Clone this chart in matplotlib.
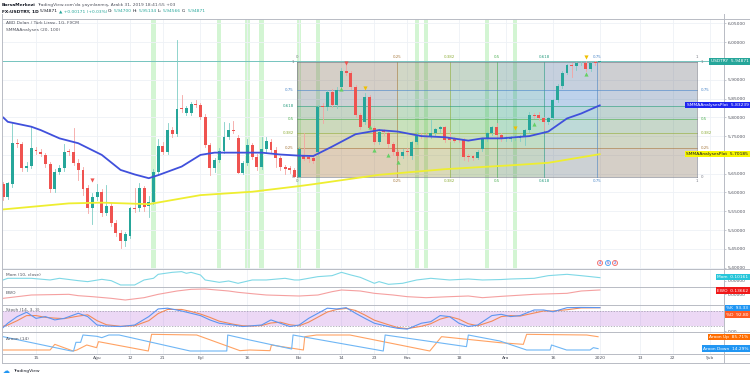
import numpy as np
import matplotlib
matplotlib.use('Agg')
import matplotlib.pyplot as plt
from matplotlib.lines import Line2D
from matplotlib.patches import Rectangle

# ---------------- data ----------------
# daily bars, index 0 = 15 Jul 2019 (weekdays only)
bars = np.arange(-7, 121)
opens = [5.622, 5.589, 5.622, 5.731, 5.728, 5.664, 5.671, 5.712, 5.709, 5.701,
         5.675, 5.608, 5.655, 5.664, 5.710, 5.709, 5.678, 5.660, 5.611, 5.558,
         5.587, 5.602, 5.545, 5.564, 5.520, 5.493, 5.471, 5.484, 5.560, 5.558,
         5.611, 5.564, 5.576, 5.655, 5.724, 5.709, 5.766, 5.756, 5.824, 5.811,
         5.811, 5.835, 5.833, 5.802, 5.726, 5.664, 5.686, 5.711, 5.748, 5.766,
         5.744, 5.653, 5.678, 5.726, 5.695, 5.667, 5.715, 5.735, 5.713, 5.691,
         5.667, 5.664, 5.660, 5.642, 5.697, 5.695, 5.691, 5.709, 5.830, 5.828,
         5.868, 5.832, 5.880, 5.924, 5.917, 5.881, 5.806, 5.788, 5.855, 5.771,
         5.733, 5.764, 5.757, 5.729, 5.708, 5.697, 5.711, 5.697, 5.733, 5.751,
         5.751, 5.750, 5.759, 5.768, 5.773, 5.744, 5.741, 5.740, 5.740, 5.697,
         5.697, 5.693, 5.715, 5.741, 5.757, 5.773, 5.753, 5.741, 5.742, 5.744,
         5.744, 5.747, 5.766, 5.806, 5.806, 5.797, 5.788, 5.797, 5.846, 5.883,
         5.919, 5.939, 5.936, 5.944, 5.945, 5.928, 5.946, 5.947]
highs = [5.628, 5.628, 5.784, 5.742, 5.735, 5.680, 5.775, 5.720, 5.715, 5.706,
         5.680, 5.662, 5.672, 5.728, 5.716, 5.771, 5.690, 5.668, 5.620, 5.598,
         5.622, 5.610, 5.620, 5.572, 5.528, 5.500, 5.495, 5.562, 5.611, 5.625,
         5.618, 5.590, 5.662, 5.742, 5.735, 5.784, 5.775, 6.005, 5.860, 5.830,
         5.840, 5.846, 5.838, 5.808, 5.732, 5.692, 5.718, 5.788, 5.785, 5.791,
         5.752, 5.684, 5.742, 5.732, 5.702, 5.748, 5.748, 5.742, 5.720, 5.698,
         5.672, 5.670, 5.666, 5.722, 5.757, 5.700, 5.698, 5.832, 5.838, 5.872,
         5.874, 5.880, 5.930, 5.939, 5.922, 5.886, 5.812, 5.864, 5.860, 5.776,
         5.768, 5.770, 5.762, 5.734, 5.714, 5.716, 5.718, 5.738, 5.760, 5.758,
         5.757, 5.794, 5.772, 5.778, 5.778, 5.760, 5.747, 5.745, 5.745, 5.702,
         5.700, 5.712, 5.746, 5.762, 5.778, 5.784, 5.758, 5.750, 5.750, 5.752,
         5.752, 5.770, 5.815, 5.812, 5.815, 5.802, 5.800, 5.850, 5.888, 5.923,
         5.943, 5.944, 5.947, 5.950, 5.949, 5.948, 5.950, 5.951]
lows = [5.580, 5.582, 5.615, 5.722, 5.658, 5.657, 5.665, 5.702, 5.696, 5.668,
        5.600, 5.602, 5.648, 5.658, 5.700, 5.672, 5.633, 5.593, 5.545, 5.516,
        5.580, 5.538, 5.540, 5.512, 5.485, 5.452, 5.458, 5.478, 5.548, 5.550,
        5.552, 5.534, 5.570, 5.648, 5.702, 5.703, 5.748, 5.750, 5.815, 5.805,
        5.805, 5.828, 5.795, 5.720, 5.647, 5.655, 5.680, 5.705, 5.742, 5.758,
        5.651, 5.648, 5.672, 5.688, 5.660, 5.662, 5.708, 5.706, 5.668, 5.660,
        5.650, 5.652, 5.640, 5.640, 5.686, 5.682, 5.678, 5.700, 5.784, 5.820,
        5.828, 5.826, 5.876, 5.912, 5.876, 5.800, 5.768, 5.782, 5.766, 5.728,
        5.728, 5.752, 5.722, 5.700, 5.690, 5.692, 5.700, 5.690, 5.728, 5.744,
        5.744, 5.745, 5.754, 5.762, 5.733, 5.736, 5.733, 5.734, 5.686, 5.684,
        5.686, 5.688, 5.710, 5.736, 5.752, 5.748, 5.736, 5.736, 5.737, 5.740,
        5.738, 5.726, 5.760, 5.798, 5.792, 5.766, 5.782, 5.792, 5.840, 5.878,
        5.914, 5.908, 5.925, 5.938, 5.924, 5.924, 5.940, 5.946]
closes = [5.589, 5.624, 5.731, 5.728, 5.664, 5.671, 5.718, 5.710, 5.702, 5.675,
          5.608, 5.655, 5.664, 5.709, 5.708, 5.678, 5.660, 5.608, 5.558, 5.587,
          5.602, 5.545, 5.564, 5.520, 5.491, 5.471, 5.490, 5.558, 5.555, 5.611,
          5.562, 5.576, 5.655, 5.724, 5.709, 5.766, 5.756, 5.822, 5.822, 5.824,
          5.835, 5.833, 5.802, 5.726, 5.664, 5.686, 5.711, 5.748, 5.766, 5.764,
          5.653, 5.678, 5.726, 5.695, 5.667, 5.715, 5.738, 5.713, 5.691, 5.667,
          5.662, 5.660, 5.642, 5.717, 5.690, 5.688, 5.685, 5.828, 5.828, 5.868,
          5.832, 5.873, 5.924, 5.917, 5.881, 5.806, 5.775, 5.855, 5.771, 5.733,
          5.762, 5.762, 5.729, 5.708, 5.697, 5.709, 5.709, 5.733, 5.750, 5.749,
          5.749, 5.759, 5.768, 5.773, 5.740, 5.740, 5.738, 5.739, 5.695, 5.695,
          5.693, 5.709, 5.741, 5.757, 5.773, 5.753, 5.741, 5.744, 5.744, 5.747,
          5.747, 5.766, 5.806, 5.804, 5.797, 5.788, 5.797, 5.846, 5.883, 5.919,
          5.939, 5.937, 5.944, 5.945, 5.928, 5.944, 5.945, 5.949]

smma20_x = [-7, -6, -1, 1, 5, 9, 14, 18, 21, 24, 26, 31, 35, 38, 42, 48, 52, 56,
            59, 63, 68, 73, 77, 82, 87, 92, 95, 99, 105, 109, 113, 116, 120]
smma20_y = [5.800, 5.788, 5.775, 5.766, 5.744, 5.731, 5.700, 5.660, 5.648, 5.638,
            5.646, 5.669, 5.700, 5.706, 5.706, 5.706, 5.701, 5.698, 5.697, 5.722,
            5.755, 5.766, 5.762, 5.750, 5.747, 5.738, 5.744, 5.744, 5.750, 5.762,
            5.797, 5.810, 5.832]
smma100_x = [-7, 7, 14, 24, 35, 46, 56, 59, 73, 87, 102, 109, 120]
smma100_y = [5.555, 5.571, 5.573, 5.569, 5.593, 5.602, 5.617, 5.622, 5.647, 5.662,
             5.673, 5.679, 5.702]

signal_bars = [25, 39, 45, 48, 56, 60, 81, 83, 96, 102]
red_marks = [(12, 5.633), (66, 5.944)]
yellow_marks = [(70, 5.878), (102, 5.772), (117, 5.960)]
green_marks = [(65, 5.874), (71, 5.774), (72, 5.713), (75, 5.700), (77, 5.682),
               (106, 5.782), (117, 5.915)]

# gann / fib box drawn on the chart
fib_t0, fib_t1 = 55.5, 140.6
fib_low, fib_high = 5.642, 5.948
fib_levels = [0, 0.25, 0.382, 0.5, 0.618, 0.75, 1]
fib_labels = ['0', '0.25', '0.382', '0.5', '0.618', '0.75', '1']
fib_colors = ['#787b86', '#a87a40', '#8fae3a', '#4caf50', '#2a9d80', '#4a86c8', '#787b86']

mom_x = [-7, -6, -1, 3, 5, 9, 11, 14, 16, 18, 21, 23, 25, 26, 29, 31, 32, 33, 35,
         36, 39, 41, 43, 46, 49, 53, 55, 56, 58, 60, 63, 65, 67, 69, 72, 73, 75,
         78, 81, 84, 88, 92, 95, 99, 101, 106, 109, 111, 113, 116, 118, 120]
mom_v = [0.031, 0.082, 0.082, 0.031, 0.082, 0.010, -0.020, 0.051, 0.010, -0.122,
         -0.122, 0.031, 0.082, 0.204, 0.265, 0.286, 0.235, 0.265, 0.184, 0.031,
         -0.041, 0.000, -0.071, 0.031, 0.031, 0.082, 0.031, 0.031, 0.082, 0.133,
         0.163, 0.265, 0.184, 0.112, -0.071, -0.020, -0.102, -0.071, 0.031, 0.082,
         0.031, 0.061, 0.031, 0.045, 0.061, 0.082, 0.163, 0.184, 0.204, 0.163,
         0.133, 0.102]

ewo_x = [-7, -4, -1, 7, 9, 12, 16, 19, 23, 26, 30, 33, 36, 41, 43, 46, 49, 56, 60,
         63, 65, 69, 72, 76, 79, 83, 88, 92, 95, 99, 106, 113, 116, 120]
ewo_v = [-0.147, -0.091, -0.034, -0.011, -0.057, -0.091, -0.147, -0.204, -0.125,
         -0.011, 0.102, 0.159, 0.170, 0.102, 0.057, 0.010, -0.034, -0.068, -0.034,
         0.079, 0.136, 0.102, 0.023, -0.034, -0.091, -0.125, -0.091, -0.068,
         -0.125, -0.080, -0.011, 0.023, 0.102, 0.137]

stoch_x = [-7, -6, -4, -2, 0, 2, 4, 6, 9, 11, 13, 15, 18, 21, 24, 26, 28, 31, 33, 35,
           37, 39, 42, 44, 46, 48, 50, 52, 54, 56, 58, 60, 62, 64, 66, 68, 70, 72,
           75, 77, 79, 82, 84, 86, 88, 90, 92, 94, 97, 99, 101, 103, 106, 108, 110,
           113, 116, 120]
stoch_k = [15, 32, 58, 75, 51, 58, 45, 51, 71, 58, 25, 21, 19, 25, 58, 88, 91, 80,
           71, 62, 45, 32, 25, 19, 22, 25, 45, 32, 19, 25, 51, 71, 91, 88, 93, 71,
           51, 32, 19, 12, 9, 32, 38, 62, 58, 32, 19, 25, 62, 67, 58, 62, 84, 84,
           77, 93, 94, 93.33]
stoch_d = [20, 25, 42, 62, 62, 55, 52, 50, 60, 65, 42, 26, 20, 22, 42, 70, 86, 86,
           78, 68, 55, 40, 28, 22, 21, 23, 33, 36, 26, 22, 36, 56, 76, 86, 90, 82,
           64, 44, 26, 15, 11, 20, 30, 48, 58, 48, 30, 22, 40, 58, 62, 60, 72, 80,
           80, 85, 92, 92.8]

aroon_dn_x = [-7, 7.5, 8, 8.5, 9.5, 10, 13, 14, 15.5, 17.7, 32.8, 40.6, 40.8, 45.5,
              54.4, 54.7, 73.9, 74.3, 91.6, 92, 98.7, 104.4, 109.4, 109.7, 112.9,
              117.9, 118.6, 119.6]
aroon_dn_v = [86, 0, 0, 52, 52, 96, 88, 80, 96, 96, 0, 0, 96, 66, 12, 96, 0, 96,
              26, 96, 60, 6, 6, 36, 6, 6, 20, 14.29]
aroon_up_x = [-7, 3, 4, 7.9, 8.7, 10.8, 12.9, 13.3, 23.9, 24.6, 34.2, 43.4, 45.5,
              49.8, 50.1, 56.9, 57.2, 59.7, 66.8, 83.8, 86.3, 98.7, 103.7, 104.4,
              117.2, 119.6]
aroon_up_v = [6, 6, 40, 0, 6, 36, 20, 56, 0, 100, 96, 2, 6, 2, 36, 6, 86, 96, 96,
              0, 86, 50, 40, 100, 96, 85.71]

date_pos = [0, 13, 20, 27, 35, 45, 56, 65, 72, 79, 90, 100, 110, 120, 128.5, 135.5, 143.4]
date_lbl = ['15', 'Ağu', '12', '21', 'Eyl', '16', 'Eki', '14', '23', 'Kas', '18',
            'Ara', '16', '2020', '13', '22', 'Şub']

# ---------------- figure ----------------
W, H = 750, 377
fs = 3.2
txt = '#50535e'
grid_c = '#eef1f6'
plt.rcParams['font.family'] = ['DejaVu Sans']

fig = plt.figure(figsize=(7.5, 3.77), dpi=100)
fig.patch.set_facecolor('white')


def rect(l, t, r, b):
    return [l / W, 1 - b / H, (r - l) / W, (b - t) / H]


def ptext(x, y, s, **kw):
    kw.setdefault('fontsize', fs)
    return fig.text(x / W, 1 - y / H, s, **kw)


def pane(t, b, ylim, yt, ylab):
    a = fig.add_axes(rect(2, t, 724, b))
    a.set_xlim(-7.23, 146.4)
    a.set_ylim(*ylim)
    for s in a.spines.values():
        s.set_visible(False)
    a.set_xticks(date_pos)
    a.tick_params(axis='x', length=0, labelbottom=False)
    a.yaxis.tick_right()
    a.set_yticks(yt)
    a.set_yticklabels(ylab)
    a.tick_params(axis='y', length=1.4, width=0.5, color='#b2b5be', pad=1,
                  labelsize=fs, labelcolor=txt)
    a.grid(axis='x', color=grid_c, lw=0.6)
    a.set_axisbelow(True)
    return a


# main price pane (labels under the coloured tags are hidden, as on screen)
price_ticks = np.arange(5.40, 6.051, 0.05)
price_lbl = ['' if abs(v - 5.95) < 1e-6 or abs(v - 5.70) < 1e-6 else '%.5f' % v
             for v in price_ticks]
ax = pane(18.5, 269, (5.3965, 6.0628), price_ticks, price_lbl)
ax.grid(axis='y', color=grid_c, lw=0.6)

for b in signal_bars:
    ax.axvspan(b - 0.45, b + 0.45, color='#d3f5d3', lw=0, zorder=0.5)

# gann box
span = fib_t1 - fib_t0
rng = fib_high - fib_low
for j in range(1, len(fib_levels)):
    a0, a1 = fib_levels[j - 1], fib_levels[j]
    ax.add_patch(Rectangle((fib_t0 + a0 * span, fib_low), (a1 - a0) * span, rng,
                           color=fib_colors[j], alpha=0.2, lw=0, zorder=1))
    ax.add_patch(Rectangle((fib_t0, fib_low + a0 * rng), span, (a1 - a0) * rng,
                           color=fib_colors[j], alpha=0.2, lw=0, zorder=1))
for lv, lb, c in zip(fib_levels, fib_labels, fib_colors):
    xv = fib_t0 + lv * span
    yv = fib_low + lv * rng
    ax.plot([xv, xv], [fib_low, fib_high], color=c, lw=0.6, alpha=0.7, zorder=1.2)
    ax.plot([fib_t0, fib_t1], [yv, yv], color=c, lw=0.6, alpha=0.7, zorder=1.2)
    ax.text(xv, fib_high + 0.007, lb, color=c, fontsize=fs * 0.9, ha='center', va='bottom')
    ax.text(xv, fib_low - 0.007, lb, color=c, fontsize=fs * 0.9, ha='center', va='top')
    ax.text(fib_t0 - 0.6, yv, lb, color=c, fontsize=fs * 0.9, ha='right', va='center')
    if lb != '0.618':
        ax.text(fib_t1 + 0.8, yv, lb, color=c, fontsize=fs * 0.9, ha='left', va='center')

ax.axhline(closes[-1], color='#26a69a', lw=0.6, alpha=0.7, zorder=1.5)

# candles
for b, o, hi, lo, c in zip(bars, opens, highs, lows, closes):
    up = c >= o
    body = '#26a69a' if up else '#ef5350'
    wick = '#7fcdc5' if up else '#f5a3a1'
    ax.plot([b, b], [lo, hi], color=wick, lw=0.6, zorder=2)
    ax.bar(b, max(abs(c - o), 0.0012), bottom=min(o, c), width=0.62, color=body,
           lw=0, zorder=3)

ax.plot(smma20_x, smma20_y, color='#4050dc', lw=1.3, zorder=4, solid_capstyle='round')
ax.plot(smma100_x, smma100_y, color='#eeee30', lw=1.3, zorder=4, solid_capstyle='round')

ax.scatter(*zip(*red_marks), marker='v', s=9, color='#ef5350', lw=0, zorder=5)
ax.scatter(*zip(*yellow_marks), marker='v', s=9, color='#f0c000', lw=0, zorder=5)
ax.scatter(*zip(*green_marks), marker='^', s=9, color='#66d066', lw=0, zorder=5)

# lower panes
mom_ax = pane(269, 287, (-0.184, 0.367), [0], ['0.00000'])
mom_ax.plot(mom_x, mom_v, color='#7fd8e6', lw=0.8)

ewo_ax = pane(287, 305, (-0.374, 0.238), [0], ['0.00000'])
ewo_ax.plot(ewo_x, ewo_v, color='#f5a0a0', lw=0.8)

st_ax = pane(305, 332, (-2.4, 103.5), [0], ['0.00'])
st_ax.axhspan(20, 80, color='#a040d0', alpha=0.2, lw=0)
st_ax.axhline(80, color='#9a9aa8', lw=0.5, ls=(0, (2, 2)))
st_ax.axhline(20, color='#9a9aa8', lw=0.5, ls=(0, (2, 2)))
st_ax.plot(stoch_x, stoch_d, color='#f28a5a', lw=0.8)
st_ax.plot(stoch_x, stoch_k, color='#5c95f0', lw=0.8)

ar_ax = pane(332, 354, (-18, 114), [], [])
ar_ax.plot(aroon_up_x, aroon_up_v, color='#ffa263', lw=0.8)
ar_ax.plot(aroon_dn_x, aroon_dn_v, color='#6fb6f5', lw=0.8)
ar_ax.set_xticklabels(date_lbl)
ar_ax.tick_params(axis='x', labelbottom=True, labelsize=fs, labelcolor=txt, pad=1.6)

# frame lines
for y in [18.5, 269, 287, 305, 332, 354, 363]:
    fig.add_artist(Line2D([2 / W, 1], [1 - y / H] * 2, color='#b8bbc4', lw=0.7))
for x in [2, 724]:
    fig.add_artist(Line2D([x / W] * 2, [1 - 363 / H, 1 - 14 / H], color='#b8bbc4', lw=0.7))


# right-axis tags
def tag(y, s, fc, tc='white', x=748.5):
    ptext(x, y, s, ha='right', va='center', color=tc,
          bbox=dict(boxstyle='square,pad=0.3', fc=fc, ec='none'))


tag(61.5, 'USDTRY  5.94871', '#26a69a')
tag(105, 'SMMAAnalysesPlot  5.83239', '#1f25f0')
tag(154, 'SMMAAnalysesPlot  5.70185', '#f7f700', tc='#131722')
tag(277, 'Mom  0.10161', '#26c6da')
tag(290.5, 'EWO  0.13662', '#f01818')
tag(308, '%K  93.33', '#2196f3')
tag(314.5, '%D  92.80', '#ff5a24')
tag(337, 'Aroon Up  85.71%', '#ff6d00')
tag(348.5, 'Aroon Down  14.29%', '#2196f3')

# header and legends
r = fig.canvas.get_renderer()


def run(x, y, parts):
    for s, c, w in parts:
        t = ptext(x, y, s, color=c, fontweight=w, va='center')
        x += t.get_window_extent(r).width + 1


run(2, 5, [('BorsaMerkezi', '#131722', 'bold'),
           ("TradingView.com'da yayınlanmış, Aralık 31, 2019 18:41:55 +03", txt, 'normal')])
g = '#26a69a'
run(2, 11.5, [('FX:USDTRY, 1D', '#131722', 'bold'), ('5.94871', '#131722', 'normal'),
              ('▲ +0.00171 (+0.03%)', g, 'normal'), ('O:', '#131722', 'normal'),
              ('5.94700', g, 'normal'), ('H:', '#131722', 'normal'), ('5.95134', g, 'normal'),
              ('L:', '#131722', 'normal'), ('5.94566', g, 'normal'), ('C:', '#131722', 'normal'),
              ('5.94871', g, 'normal')])
ptext(6, 23.5, 'ABD Doları / Türk Lirası, 1G, FXCM', color=txt, va='center')
ptext(6, 29.5, 'SMMAAnalyses (20, 100)', color=txt, va='center')
ptext(6, 275.5, 'Mom (10, close)', color=txt, va='center')
ptext(6, 293, 'EWO', color=txt, va='center')
ptext(6, 310, 'Stoch (14, 3, 3)', color=txt, va='center')
ptext(6, 338.5, 'Aroon (14)', color=txt, va='center')

# event markers near the last bars
for x, s, ec in [(600, '4', '#ef5350'), (608, '5', '#2196f3'), (615, '2', '#ef5350')]:
    ptext(x, 263, s, ha='center', va='center', color='#2962ff', fontsize=2.6,
          bbox=dict(boxstyle='circle,pad=0.15', fc='#fde8e8', ec=ec, lw=0.5))

# logo
ptext(3, 371, '☁', color='#2196f3', va='center', fontsize=5)
ptext(13, 371, 'TradingView', color='#131722', va='center')

fig.savefig('out.png', dpi=100)
